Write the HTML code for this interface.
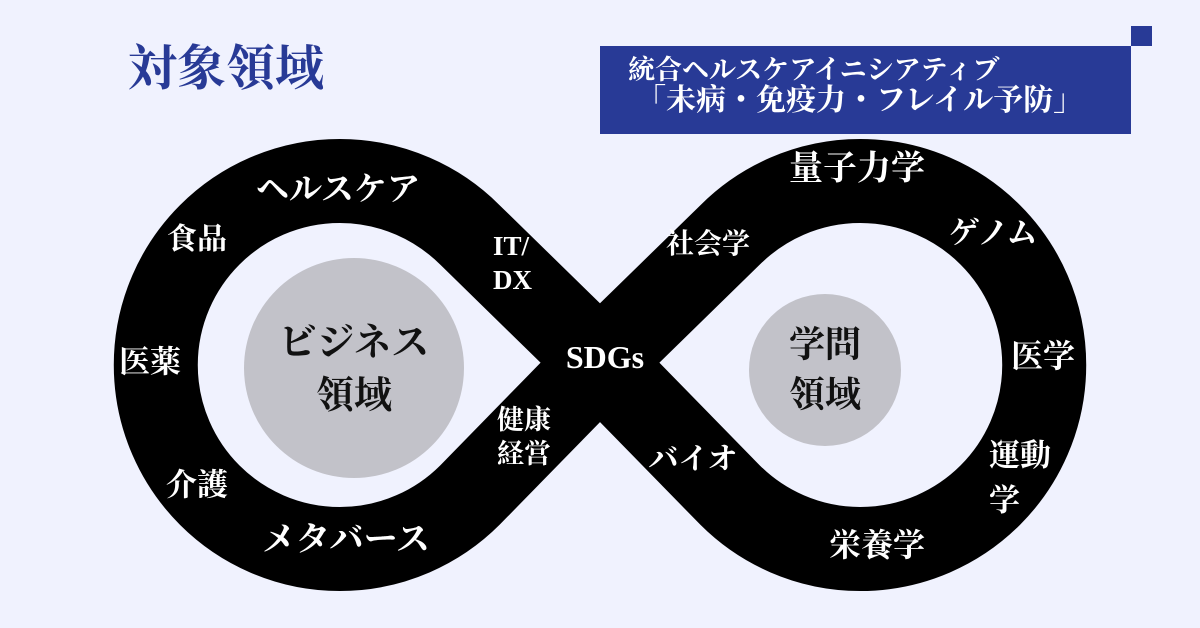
<!DOCTYPE html>
<html><head><meta charset="utf-8"><style>
body{margin:0;width:1200px;height:628px;background:#f0f2fe;position:relative;overflow:hidden;font-family:"Liberation Serif","Noto Serif CJK SC",serif;font-weight:bold}
.t{position:absolute;transform:translate(-50%,-50%);white-space:nowrap;color:#fff;line-height:1.2;text-align:center}
.l{position:absolute;white-space:nowrap;color:#fff;line-height:1.25}
</style></head><body>
<svg width="1200" height="628" style="position:absolute;left:0;top:0">
<path d="M600 362 L470 235 A184 184 0 1 0 470 495 L600 362 L730 235 A184 184 0 1 1 730 495 Z" fill="none" stroke="#000" stroke-width="84" stroke-linejoin="miter" stroke-miterlimit="10"/>
<circle cx="354" cy="368" r="110" fill="#c2c2c9"/>
<circle cx="825" cy="370" r="76" fill="#c2c2c9"/>
<rect x="600" y="46" width="531" height="88" fill="#283a96"/>
<rect x="1131" y="26" width="21" height="20" fill="#283a96"/>
</svg>
<div class="l" style="left:128px;top:38px;font-size:49px;color:#283a96">対象領域</div>
<div class="l" style="left:628px;top:54px;font-size:27px">統合ヘルスケアイニシアティブ</div>
<div class="l" style="left:636px;top:82px;font-size:30px">「未病・免疫力・フレイル予防」</div>

<div class="t" style="left:338px;top:191px;font-size:33px">ヘルスケア</div>
<div class="t" style="left:197px;top:240px;font-size:30px">食品</div>
<div class="l" style="left:493px;top:230px;font-size:27px">IT/<br>DX</div>
<div class="t" style="left:150px;top:362px;font-size:31px">医薬</div>
<div class="t" style="left:197px;top:485px;font-size:31px">介護</div>
<div class="t" style="left:346px;top:541px;font-size:34px">メタバース</div>
<div class="l" style="left:497px;top:404px;font-size:27px;line-height:1.25">健康<br>経営</div>
<div class="t" style="left:605px;top:357px;font-size:32px">SDGs</div>
<div class="t" style="left:708px;top:245px;font-size:28px">社会学</div>
<div class="t" style="left:857px;top:170px;font-size:34px">量子力学</div>
<div class="t" style="left:993px;top:233px;font-size:31px">ゲノム</div>
<div class="t" style="left:1043px;top:356px;font-size:32px">医学</div>
<div class="l" style="left:989px;top:434px;font-size:31px;line-height:1.45">運動<br>学</div>
<div class="t" style="left:877px;top:545px;font-size:32px">栄養学</div>
<div class="t" style="left:693px;top:460px;font-size:30px">バイオ</div>
<div class="t" style="left:354px;top:370px;font-size:38px;color:#111;line-height:1.4">ビジネス<br>領域</div>
<div class="t" style="left:825px;top:370px;font-size:36px;color:#111;line-height:1.4">学問<br>領域</div>
</body></html>
